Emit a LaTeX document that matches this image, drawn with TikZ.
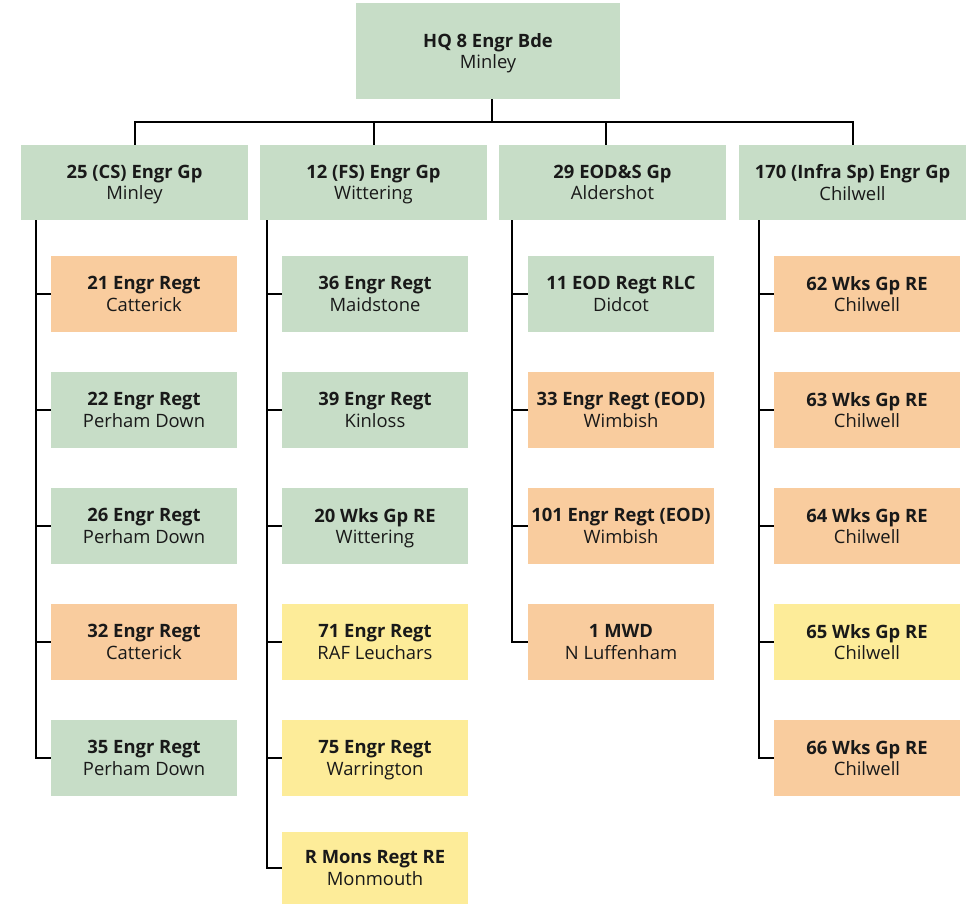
\documentclass[tikz,border=0pt]{standalone}
\usepackage{fontspec}
\setmainfont{Open Sans}
\usepackage{tikz}
\definecolor{unitgreen}{RGB}{199,221,199}
\definecolor{unitorange}{RGB}{249,204,158}
\definecolor{unityellow}{RGB}{253,236,153}
\tikzstyle{unit}=[inner sep=0pt,align=center,text depth=0pt,font=\fontsize{18.4}{21.5}\selectfont,text=black!90]
\tikzstyle{hq}=[unit,fill=unitgreen,minimum width=264pt,minimum height=96pt]
\tikzstyle{grp}=[unit,fill=unitgreen,minimum width=227pt,minimum height=75pt]
\tikzstyle{regt}=[unit,minimum width=186pt,minimum height=76pt]
\tikzstyle{link}=[line width=2pt,black]

\begin{document}
\begin{tikzpicture}[x=1pt,y=-1pt]
  \useasboundingbox (0,0) rectangle (971,904);
  \node[hq] (hq) at (488,51) {\textbf{HQ 8 Engr Bde}\\Minley};
  \node[grp] (cs) at (134.5,182.5) {\textbf{25 (CS) Engr Gp}\\Minley};
  \node[grp] (fs) at (373.5,182.5) {\textbf{12 (FS) Engr Gp}\\Wittering};
  \node[grp] (eod) at (612.5,182.5) {\textbf{29 EOD\&S Gp}\\Aldershot};
  \node[grp] (infra) at (852.5,182.5) {\textbf{170 (Infra Sp) Engr Gp}\\Chilwell};

  % bus from brigade to groups
  \coordinate (bus) at (0,122);
  \draw[link] ([xshift=4pt]hq.south) -- ([xshift=4pt]hq.south |- bus);
  \draw[link] (cs.north) -- (cs.north |- bus) -| (infra.north);
  \draw[link] (fs.north) -- (fs.north |- bus);
  \draw[link] ([xshift=-6.5pt]eod.north) -- ([xshift=-6.5pt]eod.north |- bus);

  % trunks
  \coordinate (tcs) at (36,0);
  \coordinate (tfs) at (267,0);
  \coordinate (teod) at (512,0);
  \coordinate (tinfra) at (759,0);

  \foreach \col/\name/\place [count=\i] in {unitorange/21 Engr Regt/Catterick,
      unitgreen/22 Engr Regt/Perham Down, unitgreen/26 Engr Regt/Perham Down,
      unitorange/32 Engr Regt/Catterick, unitgreen/35 Engr Regt/Perham Down}{
    \node[regt,fill=\col] (cs\i) at (144,{294+116*(\i-1)}) {\textbf{\name}\\\place};
    \draw[link] (cs.south -| tcs) |- (cs\i.west);
  }
  \foreach \col/\name/\place [count=\i] in {unitgreen/36 Engr Regt/Maidstone,
      unitgreen/39 Engr Regt/Kinloss, unitgreen/20 Wks Gp RE/Wittering,
      unityellow/71 Engr Regt/RAF Leuchars, unityellow/75 Engr Regt/Warrington}{
    \node[regt,fill=\col] (fs\i) at (375,{294+116*(\i-1)}) {\textbf{\name}\\\place};
    \draw[link] (fs.south -| tfs) |- (fs\i.west);
  }
  \node[regt,fill=unityellow,minimum height=72pt] (fs6) at (375,868) {\textbf{R Mons Regt RE}\\Monmouth};
  \draw[link] (fs.south -| tfs) |- (fs6.west);
  \foreach \col/\name/\place [count=\i] in {unitgreen/11 EOD Regt RLC/Didcot,
      unitorange/{33 Engr Regt (EOD)}/Wimbish, unitorange/{101 Engr Regt (EOD)}/Wimbish,
      unitorange/1 MWD/N Luffenham}{
    \node[regt,fill=\col] (eod\i) at (621,{294+116*(\i-1)}) {\textbf{\name}\\\place};
    \draw[link] (eod.south -| teod) |- (eod\i.west);
  }
  \foreach \col/\name/\place [count=\i] in {unitorange/62 Wks Gp RE/Chilwell,
      unitorange/63 Wks Gp RE/Chilwell, unitorange/64 Wks Gp RE/Chilwell,
      unityellow/65 Wks Gp RE/Chilwell, unitorange/66 Wks Gp RE/Chilwell}{
    \node[regt,fill=\col] (infra\i) at (867,{294+116*(\i-1)}) {\textbf{\name}\\\place};
    \draw[link] (infra.south -| tinfra) |- (infra\i.west);
  }
\end{tikzpicture}
\end{document}
